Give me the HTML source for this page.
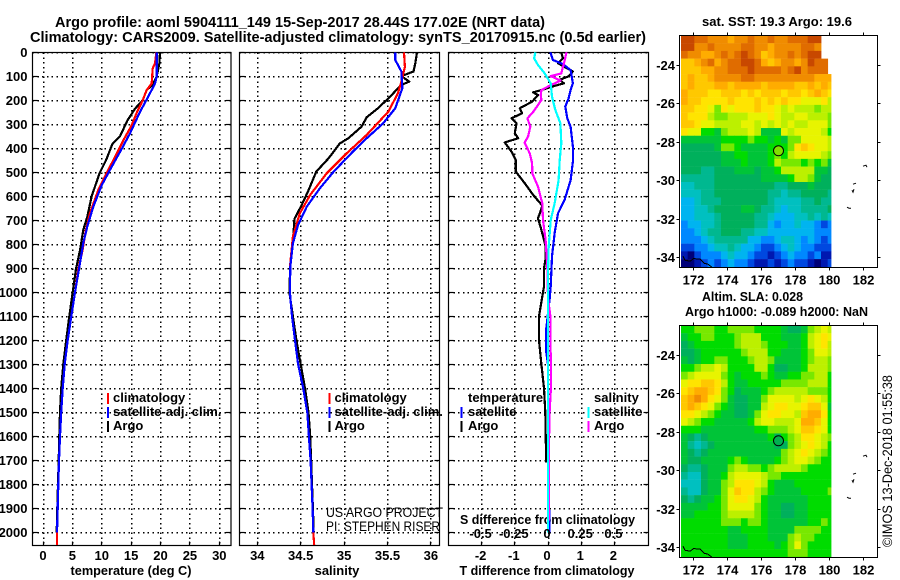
<!DOCTYPE html>
<html>
<head>
<meta charset="utf-8">
<title>Argo profile</title>
<style>
html,body{margin:0;padding:0;background:#fff;}
svg{display:block;font-family:"Liberation Sans",sans-serif;}
text{fill:#000;}
.b{font-weight:bold;font-size:13px;}
.t{font-weight:bold;font-size:14.5px;}
.r{font-size:13.5px;}
</style>
</head>
<body>
<svg id="chart" xmlns="http://www.w3.org/2000/svg" width="900" height="580" viewBox="0 0 900 580">
<rect width="900" height="580" fill="#fff"/>
<text class="t" x="55" y="27" textLength="490" lengthAdjust="spacingAndGlyphs">Argo profile: aoml 5904111_149 15-Sep-2017 28.44S 177.02E (NRT data)</text>
<text class="t" x="30" y="42" textLength="616" lengthAdjust="spacingAndGlyphs">Climatology: CARS2009. Satellite-adjusted climatology: synTS_20170915.nc (0.5d earlier)</text>
<text class="b" x="131" y="575" text-anchor="middle" textLength="121" lengthAdjust="spacingAndGlyphs">temperature (deg C)</text>
<text class="b" x="337" y="575" text-anchor="middle">salinity</text>
<text class="b" x="547" y="575" text-anchor="middle" textLength="175" lengthAdjust="spacingAndGlyphs">T difference from climatology</text>
<text class="b" x="460" y="524" textLength="175" lengthAdjust="spacingAndGlyphs">S difference from climatology</text>
<text class="b" x="702" y="26" textLength="150" lengthAdjust="spacingAndGlyphs">sat. SST: 19.3 Argo: 19.6</text>
<text class="b" x="702" y="301" textLength="101" lengthAdjust="spacingAndGlyphs">Altim. SLA: 0.028</text>
<text class="b" x="685" y="316" textLength="183" lengthAdjust="spacingAndGlyphs">Argo h1000: -0.089 h2000: NaN</text>
<text class="r" x="326" y="517" textLength="117" lengthAdjust="spacingAndGlyphs">US ARGO PROJECT</text>
<text class="r" x="326" y="531" textLength="114" lengthAdjust="spacingAndGlyphs">PI: STEPHEN RISER</text>
<text class="r" transform="translate(892,461) rotate(-90)" text-anchor="middle" textLength="172" lengthAdjust="spacingAndGlyphs">©IMOS 13-Dec-2018 01:55:38</text>
</svg>
<script>
const depthTicks=[0,100,200,300,400,500,600,700,800,900,1000,1100,1200,1300,1400,1500,1600,1700,1800,1900,2000];
const tempTicks=[0,5,10,15,20,25,30];
const salTicks=[34,34.5,35,35.5,36];
const salTickLabels=['34','34.5','35','35.5','36'];
const tDiffTicks=[-2,-1,0,1,2];
const sDiffTicks=[-0.5,-0.25,0,0.25,0.5];
const sDiffTickLabels=['-0.5','-0.25','0','0.25','0.5'];
const lonTicks=[172,174,176,178,180,182];
const latTicks=[-24,-26,-28,-30,-32,-34];

const argoTempDepth=[0,46,100,135,157,200,235,285,350,380,450,505,600,685,740,825,905,1000,1100,1200,1300,1400,1500,1600,1700,1800,1900,2000];
const argoTemp=[19.9,19.8,19.35,18.66,17.64,16.96,15.65,14.35,13.1,11.85,10.72,9.6,8.28,7.54,6.86,6.3,5.6,5.05,4.48,3.95,3.46,3.1,2.9,2.78,2.67,2.55,2.44,2.33];
const climTempDepth=[0,46,67,130,157,200,255,304,367,436,505,575,670,740,825,905,1000,1100,1200,1300,1400,1500,1600,1700,1800,1900,2000,2053];
const climTemp=[19.3,19.05,18.66,18.5,17.64,16.96,15.9,15.1,13.67,12.25,10.8,9.4,8.0,7.3,6.72,6.0,5.45,4.82,4.2,3.7,3.35,3.1,2.9,2.72,2.6,2.5,2.38,2.38];
const satTempDepth=[0,100,130,185,248,338,415,476,553,643,726,795,878,1000,1100,1200,1300,1400,1500,1600,1700,1800,1900,2000];
const satTemp=[19.35,19.35,19.05,17.9,16.5,14.8,13.1,11.7,10,8.56,7.54,6.86,6.3,5.45,4.82,4.2,3.7,3.35,3.1,2.9,2.72,2.6,2.5,2.38];

const argoSalDepth=[0,46,80,99,122,136,150,185,233,271,310,358,380,442,497,575,637,693,783,880,1000,1100,1200,1300,1400,1500,1600,1700,1800,1900,2000];
const argoSal=[35.84,35.82,35.8,35.66,35.75,35.66,35.62,35.53,35.39,35.26,35.2,35.05,34.95,34.82,34.68,34.59,34.51,34.43,34.41,34.38,34.37,34.41,34.45,34.5,34.55,34.59,34.61,34.62,34.63,34.64,34.65];
const climSalDepth=[0,60,122,171,247,344,421,504,594,671,768,880,1000,1100,1200,1300,1400,1500,1600,1700,1800,1900,2000,2053];
const climSal=[35.69,35.7,35.66,35.62,35.51,35.26,35.03,34.8,34.61,34.49,34.41,34.38,34.376,34.4,34.434,34.47,34.53,34.576,34.595,34.614,34.626,34.637,34.645,34.655];
const satSalDepth=[0,32,80,150,233,296,365,414,497,567,643,719,796,893,1000,1100,1200,1300,1400,1500,1600,1700,1800,1900,2000];
const satSal=[35.59,35.59,35.66,35.67,35.59,35.45,35.24,35.1,34.88,34.72,34.57,34.47,34.41,34.38,34.376,34.4,34.434,34.47,34.53,34.576,34.595,34.614,34.626,34.637,34.645];

const argoTDiffDepth=[0,25,46,80,100,115,129,140,157,167,178,206,233,254,275,296,337,358,376,414,449,497,546,594,639,692,740,810,858,900,976,1025,1100,1200,1300,1400,1500,1600,1710];
const argoTDiff=[.40,.45,.30,.75,.62,.35,.48,.20,-.20,-.45,-.30,-.48,-.85,-.78,-1.10,-.95,-1.0,-.90,-1.30,-1.10,-.97,-.97,-.70,-.45,-.17,-.30,-.20,-.07,-.07,-.12,-.12,-.18,-.27,-.27,-.2,-.12,-.08,-.07,-.05];
const satTDiffDepth=[0,32,49,74,129,157,192,226,275,310,393,456,533,615,671,754,851,976,1025,1150,1250,1300,1900,1910,2000];
const satTDiff=[.07,.15,.45,.68,.75,.68,.62,.52,.58,.68,.75,.75,.68,.50,.30,.20,.12,.08,.05,-.05,-.05,0,0,.04,.04];
const argoSDiffDepth=[0,46,88,99,118,136,157,178,199,247,275,310,351,376,421,462,504,560,629,699,782,893,1025,1100,1200,1300,1400,1500,1600,1950];
const argoSDiff=[.14,.12,.10,.02,.095,.025,-.05,-.055,-.05,-.11,-.155,-.133,-.15,-.176,-.138,-.12,-.118,-.075,-.043,-.038,-.018,-.005,0,.018,.018,.022,.022,.012,.008,.008];
const satSDiffDepth=[0,25,53,88,129,185,240,296,379,449,533,630,699,810,921,1025,2000];
const satSDiff=[-.095,-.105,-.075,-.025,.02,.03,.055,.093,.10,.088,.08,.05,.02,.005,0,0,0];

const mapPalette={A:'#000078',B:'#0018b0',C:'#0048e0',D:'#0088ff',E:'#00b4f0',F:'#00c0c0',G:'#00b890',H:'#00b05c',I:'#00c438',J:'#00dc00',K:'#78e800',L:'#bcf000',M:'#e8f400',N:'#ffe400',O:'#ffc800',P:'#ffac00',Q:'#f08c00',R:'#e06c00',S:'#c84800'};
const sstGrid=[
'SSRRQQQPQQRQQRQQRRRSS..',
'SSQQRQQQQRRQQPQQQQRRQ..',
'RQQPPQRQRSRQOPQQRQRSS..',
'OOPQRPQRRSSRPOPQQPQSRR.',
'OOOPPQQRRRSRRRRQRSQRRR.',
'OPOOPQQQQRRQQQQQQQQQPPP',
'OPOOOPPOPPPPOPPPPOOPOPO',
'POOONNOOONONOOONOONOPON',
'POONNNNONNNONONONNMMMNL',
'OONNMKNMNNNONNMLMLLLKLL',
'ONNNLKKLLLMMMNMLLMMLLLK',
'OONMMLLLLMMLMLMLMLLMMMK',
'NMMJJIKLLLMLIIIMLMMMMLJ',
'IIIIIIJJJJKJJIJIKKMMMML',
'HHHHHIKKJIIIIJJJKNONMML',
'HHHHHHIIJJIIIJKJLMMMMLK',
'HHHHHHIIIJIIIJLKKKJKJKI',
'HHHGGHHHIIIHIIJLLLLLIIH',
'GGGGGHHHHHHHIIIIJLLKIHH',
'FFGGGHHHHHHHHHGGHHHIHHH',
'FFFGGHHHHHHHHGGFGGHHHHG',
'EEFGGGHHHHHHHGFFFFGGHGG',
'EEFFGHHHHIIHGGFEFFGGGGH',
'EEFFFGHHHHHGGFEEEFFGFGF',
'DEEFFGHHHHHGGEDEEFEEDCD',
'DDEFGGHHHGGFFEEEEEEEDDD',
'DDDEFGGGGGEEDDEFFEDEDCD',
'CCDDEFFGFEEDCCDEFEDDCCC',
'BACDDDEFEEDCCBCDEDDCDBB',
'AABCDCDEDDCBBCBCDCCBABC',
'AABCDCDEDDCBBCBCDCCBABC'
];
const slaGrid=[
'JJKKKJJKKKKJJJJIHHIKLML',
'IJJKKJJJKLLLJJJIIIJLMNM',
'HIJJJJJJKLLLKJJJIIJLMNL',
'HHIJJJJJJKLLLJJIIIJKMML',
'IHIJJKKJJJKLLKIIIIJKLLK',
'JJKLLMLJJJJLLJHHIIJLLLK',
'KLMMMMKJIJJJKJIIJJKKLLJ',
'MNNOONLJIIJJJJJKKKKLLLJ',
'NOPPONKJHIIIJKLLLLLKKKJ',
'OPQPNMKIHHIIKMMMMLMNMLJ',
'OPONMKJIHHIILMNNMMNOOMI',
'NNMLKJIIHHIKMNNMMLOPPNJ',
'MLKJJIIIIIJLMMLLLMPPOMJ',
'JJJIIIIIIIIJJKKKLMOONMJ',
'IHGHIIIIIIIIIJHJKLNNMLK',
'IGFGHIIIIIIIIIHHKLMNMLJ',
'IHGHIIIIIIIIIIIKLMNMLKJ',
'IHHIIIIJKJIIIIJKLMMLKJJ',
'HGGHIIIKLLKKJKLLLLKJJJJ',
'GFFHIIJLMMMMLKKJJJJJJJJ',
'FFFHIIKLNNNMLJIIIJJJJJJ',
'GFFHIIKMONNLKJIIIIJJJJK',
'HGHIIJKMNNMLJIIIIIIJJJJ',
'IIIIJJKMMMMKJIIHHIIJJJJ',
'IIJJJJKLLLLKJIIHHIIJJJJ',
'JJJJJJKKKJKKJIIIIIIJJKJ',
'JJJJJJJIIJJJJIIIIKKKKJJ',
'JJJJJJJIIIJJJIIIKLKKJJJ',
'JJJJJJJIIIJJJJIJKMKJJJJ',
'JJJJJJJJJJJJJJJJKKKJJJJ',
'JJJJJJJJJJJJJJJJJJJJJJJ'
];
const floatLon=[177];
const floatLat=[-28.44];
const sstFloatColor='#80e000';
const slaFloatColor='#00b050';

const NS='http://www.w3.org/2000/svg';
const svg=document.getElementById('chart');
function mk(tag,attrs,text){
  const e=document.createElementNS(NS,tag);
  for(const k in attrs)e.setAttribute(k,attrs[k]);
  if(text!==undefined)e.textContent=text;
  svg.appendChild(e);
  return e;
}
const yDepth=d=>52.3+d*0.24;
const panels=[{x0:32.5,x1:231},{x0:239.5,x1:439.5},{x0:448.5,x1:648.5}];
const xTemp=v=>43+v*5.877;
const xSal=v=>257.3+(v-34)*86.8;
const xTD=v=>548+v*33.2;
const xSD=v=>548+v*132.8;
const BOTTOM=545.5,TOP=52.5;
const snap=v=>Math.round(v-0.5)+0.5;

function grid(px,xs,nameX){
  depthTicks.forEach(d=>{
    const y=snap(yDepth(d));
    const g=mk('line',{x1:px.x0,x2:px.x1,y1:y,y2:y,stroke:'#000','stroke-width':1.5,'stroke-dasharray':'1.5 3.3','shape-rendering':'crispEdges'});
    
    
    const t1=mk('line',{x1:px.x0,x2:px.x0+5,y1:y,y2:y,stroke:'#000','stroke-width':1.2});
    
    
    const t2=mk('line',{x1:px.x1-5,x2:px.x1,y1:y,y2:y,stroke:'#000','stroke-width':1.2});
    
    
  });
  xs.forEach(xv=>{
    const x=snap(xv);
    const g=mk('line',{x1:x,x2:x,y1:TOP,y2:BOTTOM,stroke:'#000','stroke-width':1.5,'stroke-dasharray':'1.5 3.3','shape-rendering':'crispEdges'});
    
    
    const t=mk('line',{x1:x,x2:x,y1:BOTTOM-4,y2:BOTTOM,stroke:'#000','stroke-width':1.2});
    
    
  });
  const f=mk('rect',{x:px.x0,y:TOP,width:px.x1-px.x0,height:BOTTOM-TOP,fill:'none',stroke:'#000','stroke-width':1.2});
  
  
}
grid(panels[0],tempTicks.map(xTemp),'temperature-gridline');
grid(panels[1],salTicks.map(xSal),'salinity-gridline');
grid(panels[2],tDiffTicks.map(xTD),'t-difference-gridline');

function series(xs,ds,xf,color,width){
  const pts=xs.map((v,i)=>xf(v).toFixed(1)+','+yDepth(ds[i]).toFixed(1)).join(' ');
  return mk('polyline',{points:pts,fill:'none',stroke:color,'stroke-width':width,'stroke-linejoin':'round','shape-rendering':'crispEdges'});
}
let s;
s=series(argoTemp,argoTempDepth,xTemp,'#000',2.2);


s=series(climTemp,climTempDepth,xTemp,'#ff0000',2.2);


s=series(satTemp,satTempDepth,xTemp,'#0000ff',2.2);


s=series(argoSal,argoSalDepth,xSal,'#000',2.2);


s=series(climSal,climSalDepth,xSal,'#ff0000',2.2);


s=series(satSal,satSalDepth,xSal,'#0000ff',2.2);


s=series(argoTDiff,argoTDiffDepth,xTD,'#000',2.2);


s=series(satTDiff,satTDiffDepth,xTD,'#0000ff',2.2);


s=series(argoSDiff,argoSDiffDepth,xSD,'#ff00ff',2.2);


s=series(satSDiff,satSDiffDepth,xSD,'#00ffff',2.2);



depthTicks.forEach(d=>{
  const t=mk('text',{class:'b',x:27.5,y:yDepth(d)+4.5,'text-anchor':'end'},String(d));
  
  
});
tempTicks.forEach(v=>{
  const t=mk('text',{class:'b',x:xTemp(v),y:560,'text-anchor':'middle'},String(v));
  
  
});
salTicks.forEach((v,i)=>{
  const t=mk('text',{class:'b',x:xSal(v),y:560,'text-anchor':'middle'},salTickLabels[i]);
  
  
});
tDiffTicks.forEach(v=>{
  const t=mk('text',{class:'b',x:xTD(v)-1,y:560,'text-anchor':'middle'},String(v));
  
  
});
sDiffTicks.forEach((v,i)=>{
  const t=mk('text',{class:'b',x:xSD(v)-1,y:538,'text-anchor':'middle'},sDiffTickLabels[i]);
  
  
});

const legendRows=[
 {x:107,tx:113,y:402,c:'#ff0000',l:'climatology'},
 {x:107,tx:113,y:416,c:'#0000ff',l:'satellite-adj. clim.'},
 {x:107,tx:113,y:430,c:'#000',l:'Argo'},
 {x:328.5,tx:334.5,y:402,c:'#ff0000',l:'climatology'},
 {x:328.5,tx:334.5,y:416,c:'#0000ff',l:'satellite-adj. clim.'},
 {x:328.5,tx:334.5,y:430,c:'#000',l:'Argo'},
 {x:460.5,tx:468,y:416,c:'#0000ff',l:'satellite'},
 {x:460.5,tx:468,y:430,c:'#000',l:'Argo'},
 {x:587.5,tx:594,y:416,c:'#00ffff',l:'satellite'},
 {x:587.5,tx:594,y:430,c:'#ff00ff',l:'Argo'}
];
legendRows.forEach(r=>{
  const b=mk('rect',{x:r.x,y:r.y-9,width:2,height:11,fill:r.c});
  
  
  const t=mk('text',{class:'b',x:r.tx,y:r.y},r.l);
  
  
});
const legH1=mk('text',{class:'b',x:468,y:402},'temperature');


const legH2=mk('text',{class:'b',x:594,y:402},'salinity');



const xLon=v=>693.7+(v-172)*16.96;
const CW=150/22.5,CH=7.71;
function drawMap(top,gridRows,floatColor,prefix){
  const yLat=v=>top+29.7+(-24-v)*19.27;
  gridRows.forEach((row,r)=>{
    [...row].forEach((ch,c)=>{
      if(ch==='.')return;
      const w=Math.min(CW,150-c*CW);
      const h=Math.min(CH,231.7-r*CH);
      if(h<=0)return;
      const cell=mk('rect',{x:(681+c*CW).toFixed(2),y:(top+r*CH).toFixed(2),width:(w+0.4).toFixed(2),height:(h+0.2).toFixed(2),fill:mapPalette[ch]});
      
      
    });
  });
  const islands=[[863,166,866,165,867,167],[853,184,856,183],[852,190,853,192,854,189],[847,207,849,208,851,208]];
  islands.forEach(a=>{
    const pts=[];
    for(let i=0;i<a.length;i+=2)pts.push(a[i]+','+(top-35.3+a[i+1]));
    const p=mk('polyline',{points:pts.join(' '),fill:'none',stroke:'#000','stroke-width':1});
    
    
  });
  const coast=mk('polyline',{points:[[683,256],[685,260],[690,261],[694,258],[697,259],[700,259],[704,263],[708,264],[712,267]].map(q=>q[0]+','+(top-35.3+q[1])).join(' '),fill:'none',stroke:'#000','stroke-width':1,'shape-rendering':'crispEdges'});
  
  
  floatLon.forEach((lon,i)=>{
    const m=mk('circle',{cx:xLon(lon),cy:yLat(floatLat[i]),r:5,fill:floatColor,stroke:'#000','stroke-width':1});
    
    
  });
  const f=mk('rect',{x:679.5,y:top,width:198,height:232,fill:'none',stroke:'#000','stroke-width':1});
  
  
  lonTicks.forEach(v=>{
    const x=snap(xLon(v));
    const a=mk('line',{x1:x,x2:x,y1:top+232,y2:top+235,stroke:'#000'});
    
    
    const b=mk('line',{x1:x,x2:x,y1:top-3,y2:top,stroke:'#000'});
    
    
    const t=mk('text',{class:'b',x:x,y:top+249,'text-anchor':'middle'},String(v));
    
    
  });
  latTicks.forEach(v=>{
    const y=snap(yLat(v));
    const a=mk('line',{x1:676.5,x2:679.5,y1:y,y2:y,stroke:'#000'});
    
    
    const b=mk('line',{x1:877.5,x2:880.5,y1:y,y2:y,stroke:'#000'});
    
    
    const t=mk('text',{class:'b',x:675,y:y+4.5,'text-anchor':'end'},String(v));
    
    
  });
}
drawMap(35.5,sstGrid,sstFloatColor,'sst');
drawMap(325.5,slaGrid,slaFloatColor,'sla');
</script>
</body>
</html>
